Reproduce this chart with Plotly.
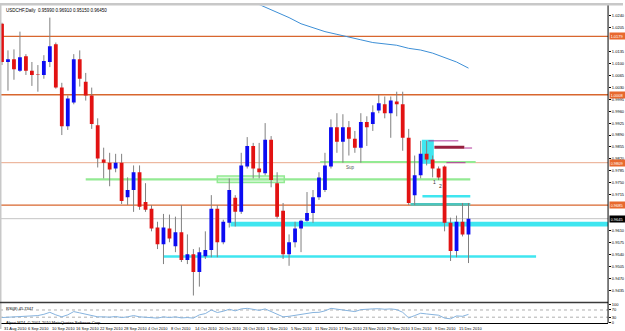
import plotly.graph_objects as go

W, H = 625, 331

# ---------------- data ----------------
opens = [1.0216, 1.0104, 1.0112, 1.0078, 1.0121, 1.0078, 1.0069, 1.0066, 1.0104, 1.0156,
         1.0029, 0.9916, 0.9985, 1.0112, 1.0046, 1.0006, 0.9919, 0.9818, 0.9809, 0.9792,
         0.9809, 0.9708, 0.9729, 0.9781, 0.9694, 0.9674, 0.9619, 0.9570, 0.9616, 0.9564,
         0.9605, 0.9524, 0.9541, 0.9489, 0.9535, 0.9553, 0.9674, 0.9576, 0.9633, 0.9706,
         0.9665, 0.9798, 0.9858, 0.9792, 0.9778, 0.9876, 0.9749, 0.9668, 0.9541, 0.9576,
         0.9616, 0.9639, 0.9662, 0.9708, 0.9729, 0.9798, 0.9913, 0.9870, 0.9913, 0.9879,
         0.9853, 0.9928, 0.9922, 0.9962, 0.9980, 0.9954, 0.9988, 0.9980, 0.9882, 0.9714,
         0.9772, 0.9835, 0.9818, 0.9792, 0.9798, 0.9633, 0.9550, 0.9636, 0.9599]
highs = [1.0219, 1.0138, 1.0141, 1.0193, 1.0127, 1.0104, 1.0095, 1.0124, 1.0234, 1.0161,
         1.0043, 1.0006, 1.0127, 1.0138, 1.0072, 1.0029, 0.9939, 0.9853, 0.9838, 0.9835,
         0.9835, 0.9766, 0.9801, 0.9801, 0.9749, 0.9685, 0.9636, 0.9659, 0.9657, 0.9651,
         0.9685, 0.9599, 0.9556, 0.9561, 0.9608, 0.9714, 0.9685, 0.9642, 0.9763, 0.9714,
         0.9838, 0.9884, 0.9867, 0.9867, 0.9925, 0.9887, 0.9781, 0.9691, 0.9599, 0.9636,
         0.9642, 0.9723, 0.9729, 0.9781, 0.9838, 0.9936, 0.9954, 0.9951, 0.9931, 0.9902,
         0.9954, 0.9945, 0.9977, 1.0008, 1.0003, 1.0003, 1.0017, 1.0017, 0.9908, 0.9830,
         0.9873, 0.9873, 0.9830, 0.9798, 0.9801, 0.9648, 0.9654, 0.9691, 0.9691]
lows = [1.0095, 1.0020, 1.0052, 1.0075, 1.0066, 1.0034, 1.0017, 1.0055, 1.0089, 1.0026,
        0.9890, 0.9905, 0.9980, 1.0032, 0.9991, 0.9908, 0.9795, 0.9763, 0.9740, 0.9781,
        0.9688, 0.9685, 0.9665, 0.9671, 0.9665, 0.9608, 0.9556, 0.9512, 0.9576, 0.9547,
        0.9518, 0.9512, 0.9420, 0.9446, 0.9527, 0.9532, 0.9532, 0.9570, 0.9619, 0.9622,
        0.9659, 0.9792, 0.9763, 0.9763, 0.9772, 0.9737, 0.9645, 0.9527, 0.9507, 0.9561,
        0.9547, 0.9636, 0.9633, 0.9700, 0.9723, 0.9792, 0.9838, 0.9809, 0.9830, 0.9838,
        0.9809, 0.9858, 0.9902, 0.9954, 0.9939, 0.9882, 0.9945, 0.9844, 0.9685, 0.9685,
        0.9763, 0.9801, 0.9766, 0.9758, 0.9608, 0.9521, 0.9532, 0.9593, 0.9515]
closes = [1.0104, 1.0112, 1.0083, 1.0118, 1.0078, 1.0066, 1.0067, 1.0107, 1.0150, 1.0029,
          0.9916, 0.9997, 1.0112, 1.0055, 1.0006, 0.9922, 0.9821, 0.9809, 0.9789, 0.9809,
          0.9697, 0.9729, 0.9781, 0.9680, 0.9671, 0.9616, 0.9570, 0.9619, 0.9587, 0.9605,
          0.9524, 0.9541, 0.9489, 0.9547, 0.9553, 0.9674, 0.9576, 0.9636, 0.9729, 0.9665,
          0.9801, 0.9858, 0.9792, 0.9781, 0.9876, 0.9758, 0.9651, 0.9541, 0.9576, 0.9616,
          0.9639, 0.9662, 0.9708, 0.9766, 0.9801, 0.9913, 0.9870, 0.9913, 0.9879, 0.9853,
          0.9928, 0.9913, 0.9957, 0.9983, 0.9954, 0.9991, 0.9980, 0.9882, 0.9691, 0.9772,
          0.9835, 0.9818, 0.9792, 0.9766, 0.9633, 0.9550, 0.9636, 0.9599, 0.9645]

ma_idx = [42, 44, 46, 48, 50, 52, 54, 56, 58, 60, 62, 64, 66, 68, 70, 72, 74, 76, 78]
ma_val = [1.0280, 1.0265, 1.0251, 1.0234, 1.0216, 1.0205, 1.0193, 1.0185, 1.0176, 1.0169,
          1.0161, 1.0157, 1.0153, 1.0144, 1.0139, 1.0130, 1.0117, 1.0104, 1.0086]

rsi = [28, 30, 32, 35, 34, 35, 39, 46, 57, 43, 32, 43, 61, 54, 46, 39, 32, 32, 30, 34,
       28, 32, 39, 32, 30, 26, 25, 32, 28, 32, 26, 28, 25, 43, 50, 70, 56, 63, 74, 65,
       76, 79, 72, 68, 76, 61, 46, 32, 35, 41, 46, 50, 56, 57, 65, 79, 74, 72, 67, 61,
       72, 72, 76, 77, 74, 76, 72, 57, 26, 39, 52, 48, 46, 41, 25, 21, 37, 35, 45.7]

date_labels = ["31 Aug 2010", "6 Sep 2010", "10 Sep 2010", "16 Sep 2010", "22 Sep 2010",
               "28 Sep 2010", "4 Oct 2010", "8 Oct 2010", "14 Oct 2010", "20 Oct 2010",
               "26 Oct 2010", "1 Nov 2010", "5 Nov 2010", "11 Nov 2010", "17 Nov 2010",
               "23 Nov 2010", "29 Nov 2010", "3 Dec 2010", "9 Dec 2010", "15 Dec 2010"]
date_bar = [0, 4, 8, 12, 16, 20, 24, 28, 32, 36, 40, 44, 48, 52, 56, 60, 64, 68, 72, 76]

# axis labels not hidden under the coloured level boxes
price_ticks = [0.9435, 0.9470, 0.9505, 0.9540, 0.9575, 0.9610, 0.9715, 0.9750,
               0.9785, 0.9820, 0.9855, 0.9890, 0.9925, 0.9960, 0.9995, 1.0030, 1.0065, 1.0100,
               1.0135, 1.0205, 1.0240]

orange_levels = [1.0179, 1.0008, 0.9685]
orange_thin_level = 0.9809
current_price = 0.9645

green_lines = [(14, 78.3, 0.9760), (53.2, 79.2, 0.9811)]
green_box = (36, 47.2, 0.9751, 0.9770)
cyan_band = (38.2, 0.9622, 0.9636)
cyan_lines = [(27, 89.3, 0.9534), (70.3, 78.3, 0.9711)]
teal_line = (68.3, 78.3, 0.9687)
cyan_box = (70.2, 72.2, 0.9806, 0.9876)
purple_thin = [(71.3, 76.3, 0.9873), (77.3, 78.6, 0.9852), (74.3, 77.5, 0.9809)]
purple_thick = (72.3, 77.3, 0.9854)

header = "USDCHF,Daily  0.95990 0.96910 0.95150 0.96450"

# ---------------- geometry ----------------
def py(ypix):
    return 1 - ypix / H

X_RIGHT = 610 / W
X0 = -1 / 3
X1 = X0 + 610 / 6
MAIN_TOP_PX, MAIN_BOT_PX = 2.5, 304
P_TOP = 1.02768 - 0.0002885 * MAIN_TOP_PX
P_BOT = 1.02768 - 0.0002885 * MAIN_BOT_PX

n = len(opens)
idx = list(range(n))

fig = go.Figure()

# wicks
wx, wy = [], []
for i in idx:
    wx += [i, i, None]
    wy += [lows[i], highs[i], None]
fig.add_trace(go.Scatter(x=wx, y=wy, mode="lines", line=dict(color="#808080", width=1),
                         hoverinfo="skip", showlegend=False))

# bodies drawn as thick vertical strokes
MIN_H = 0.00010
for bull, col in [(True, "#0c0cf2"), (False, "#e21212")]:
    bx, by = [], []
    for i in idx:
        if (closes[i] > opens[i]) == bull:
            lo = min(opens[i], closes[i])
            hi = max(opens[i], closes[i])
            if hi - lo < MIN_H:
                hi = lo + MIN_H
            bx += [i, i, None]
            by += [lo, hi, None]
    fig.add_trace(go.Scatter(x=bx, y=by, mode="lines", line=dict(color=col, width=3.8),
                             showlegend=False, hoverinfo="skip"))

# moving average
fig.add_trace(go.Scatter(x=ma_idx, y=ma_val, mode="lines", line=dict(color="#3d8fd6", width=1),
                         showlegend=False, hoverinfo="skip"))

# RSI
fig.add_trace(go.Scatter(x=idx, y=rsi, mode="lines", line=dict(color="#86b3de", width=1),
                         xaxis="x2", yaxis="y2", showlegend=False, hoverinfo="skip"))

shapes = []
def hline_paper(level, color, width, dash="solid"):
    shapes.append(dict(type="line", xref="paper", yref="y", x0=0, x1=X_RIGHT, y0=level, y1=level,
                       line=dict(color=color, width=width, dash=dash), layer="below"))

def seg(x0, x1, level, color, width):
    shapes.append(dict(type="line", xref="x", yref="y", x0=x0, x1=x1, y0=level, y1=level,
                       line=dict(color=color, width=width), layer="below"))

def rect(x0, x1, y0, y1, color, lw=0, lc=None):
    shapes.append(dict(type="rect", xref="x", yref="y", x0=x0, x1=x1, y0=y0, y1=y1,
                       fillcolor=color, line=dict(width=lw, color=lc or color), layer="below"))

hline_paper(current_price, "#c4c4c4", 1)
for lv in orange_levels:
    hline_paper(lv, "#d8662e", 1.3)
hline_paper(orange_thin_level, "#e9a88a", 1)

for x0, x1, lv in green_lines:
    seg(x0, x1, lv, "#93ea93", 2.2)
rect(green_box[0], green_box[1], green_box[2], green_box[3], "rgba(160,238,160,0.35)", 1.5, "#93ea93")

rect(cyan_band[0], X1, cyan_band[1], cyan_band[2], "#3fe6f0")
for x0, x1, lv in cyan_lines:
    seg(x0, x1, lv, "#3fe6f0", 2.5)
seg(teal_line[0], teal_line[1], teal_line[2], "#4cc4bd", 2.6)
rect(cyan_box[0], cyan_box[1], cyan_box[2], cyan_box[3], "#3fe6f0")
for x0, x1, lv in purple_thin:
    seg(x0, x1, lv, "#b2399a", 1)
seg(purple_thick[0], purple_thick[1], purple_thick[2], "#98203f", 3)

# RSI levels
for lv in (70, 30):
    shapes.append(dict(type="line", xref="paper", yref="y2", x0=0, x1=X_RIGHT, y0=lv, y1=lv,
                       line=dict(color="#9a9a9a", width=0.8, dash="dot"), layer="below"))

# frame pieces
shapes.append(dict(type="rect", xref="paper", yref="paper", x0=0, x1=1, y0=py(2.5), y1=1,
                   fillcolor="#c8c8c8", line=dict(width=0)))
shapes.append(dict(type="rect", xref="paper", yref="paper", x0=0, x1=1.5 / W, y0=0, y1=1,
                   fillcolor="#c8c8c8", line=dict(width=0)))
shapes.append(dict(type="line", xref="paper", yref="paper", x0=0, x1=X_RIGHT, y0=py(304), y1=py(304),
                   line=dict(color="#3a3a3a", width=1.5)))
shapes.append(dict(type="line", xref="paper", yref="paper", x0=X_RIGHT, x1=X_RIGHT, y0=py(325), y1=py(2.5),
                   line=dict(color="#000000", width=1)))

annotations = []
FONT = "Liberation Sans"
annotations.append(dict(xref="paper", yref="paper", x=4 / W, y=py(3), xanchor="left", yanchor="top",
                        text=header, showarrow=False, font=dict(family=FONT, size=4.5, color="#000")))
for lab, b in zip(date_labels, date_bar):
    annotations.append(dict(xref="x", yref="paper", x=b, y=py(325.5), xanchor="left", yanchor="top",
                            text=lab, showarrow=False, font=dict(family=FONT, size=4, color="#000")))
for lv in orange_levels + [orange_thin_level]:
    annotations.append(dict(xref="paper", yref="y", x=X_RIGHT + 0.5 / W, y=lv, xanchor="left", yanchor="middle",
                            text=f"{lv:.4f}", showarrow=False, bgcolor="#e8692e", borderpad=0.5, width=14,
                            align="left", font=dict(family=FONT, size=4, color="#fff")))
annotations.append(dict(xref="paper", yref="y", x=X_RIGHT + 0.5 / W, y=current_price, xanchor="left",
                        yanchor="middle", text=f"{current_price:.4f}", showarrow=False, bgcolor="#000",
                        borderpad=0.5, width=14, align="left", font=dict(family=FONT, size=4, color="#fff")))
annotations.append(dict(xref="x", yref="y", x=58.3, y=0.9795, text="Sup", showarrow=False,
                        font=dict(family=FONT, size=4.5, color="#555")))
annotations.append(dict(xref="x", yref="y", x=72.3, y=0.9752, text="1", showarrow=False,
                        font=dict(family=FONT, size=5, color="#333")))
annotations.append(dict(xref="x", yref="y", x=73.3, y=0.9740, text="2", showarrow=False,
                        font=dict(family=FONT, size=5, color="#333")))
annotations.append(dict(xref="paper", yref="paper", x=4 / W, y=py(305.5), xanchor="left", yanchor="top",
                        text="RSI(8) 45.7347", showarrow=False, font=dict(family=FONT, size=4, color="#000")))
annotations.append(dict(xref="paper", yref="paper", x=4 / W, y=py(319.5), xanchor="left", yanchor="top",
                        text="Alpari MT4, © 2001-2010 MetaQuotes Software Corp.", showarrow=False,
                        font=dict(family=FONT, size=4, color="#000")))

fig.update_layout(
    width=W, height=H, margin=dict(l=0, r=0, t=0, b=0),
    paper_bgcolor="#ffffff", plot_bgcolor="#ffffff",
    showlegend=False,
    shapes=shapes, annotations=annotations,
    xaxis=dict(domain=[0, X_RIGHT], range=[X0, X1], showgrid=False, zeroline=False,
               showticklabels=False, ticks="", anchor="y"),
    yaxis=dict(domain=[py(MAIN_BOT_PX), py(MAIN_TOP_PX)], range=[P_BOT, P_TOP], side="right",
               showgrid=False, zeroline=False, tickvals=price_ticks,
               ticktext=[f"{v:.4f}" for v in price_ticks], ticks="outside", ticklen=2,
               tickcolor="#000", tickfont=dict(family=FONT, size=4, color="#000"),
               showline=False, anchor="x"),
    xaxis2=dict(domain=[0, X_RIGHT], range=[X0, X1], showgrid=False, zeroline=False,
                showticklabels=False, ticks="", anchor="y2", showline=True, linecolor="#000",
                linewidth=1, matches="x"),
    yaxis2=dict(domain=[py(324.5), py(306.2)], range=[0, 100], side="right", showgrid=False,
                zeroline=False, tickvals=[100, 70, 30, 0], ticktext=["100", "70", "30", "0"],
                ticks="outside", ticklen=2, tickcolor="#000",
                tickfont=dict(family=FONT, size=4, color="#000"), anchor="x2"),
)

fig.write_html("out.html")
